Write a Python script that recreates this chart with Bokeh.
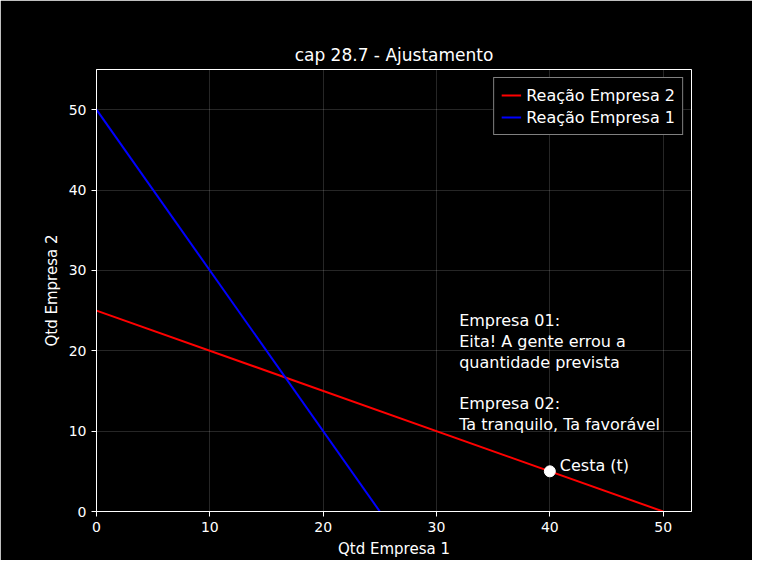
from bokeh.plotting import figure
from bokeh.models import Range1d, FixedTicker
from bokeh.embed import file_html
from bokeh.resources import INLINE
from bokeh.core.properties import value

r2_x = [0, 50]
r2_y = [25, 0]
r1_x = [0, 25]
r1_y = [50, 0]
pt_x = [40]
pt_y = [5]
pt_label = ["Cesta (t)"]
note_lines = ["Empresa 01:", "Eita! A gente errou a", "quantidade prevista",
              "Empresa 02:", "Ta tranquilo, Ta favorável"]
note_y = [23.8, 21.2, 18.6, 13.4, 10.8]
note_x = [32] * 5
ticks = [0, 10, 20, 30, 40, 50]

F = "DejaVu Sans"
p = figure(width=752, height=560, output_backend="svg", toolbar_location=None,
           x_range=Range1d(0, 52.5), y_range=Range1d(0, 55),
           min_border_left=96, min_border_right=61, min_border_top=69, min_border_bottom=47,
           background_fill_color="black", border_fill_color="black",
           title="cap 28.7 - Ajustamento")
p.title.align = "center"
p.title.text_color = "white"
p.title.text_font = F
p.title.text_font_size = "17px"
p.title.text_font_style = "normal"
p.title.offset = 4
p.outline_line_color = "white"
for ax in (p.xaxis, p.yaxis):
    ax.ticker = FixedTicker(ticks=ticks)
    ax.axis_line_color = "white"
    ax.major_tick_line_color = "white"
    ax.minor_tick_line_color = None
    ax.major_label_text_color = "white"
    ax.major_label_text_font = F
    ax.major_label_text_font_size = "14px"
    ax.axis_label_text_color = "white"
    ax.axis_label_text_font = F
    ax.axis_label_text_font_size = "15px"
    ax.axis_label_text_font_style = "normal"
    ax.major_tick_out = 5
    ax.major_tick_in = 0
p.xaxis.axis_label = "Qtd Empresa 1"
p.yaxis.axis_label = "Qtd Empresa 2"
p.grid.grid_line_color = "white"
p.grid.grid_line_alpha = 0.15

p.line(r2_x, r2_y, color="red", line_width=2, legend_label="Reação Empresa 2")
p.line(r1_x, r1_y, color="blue", line_width=2, legend_label="Reação Empresa 1")
p.scatter(pt_x, pt_y, size=11, color="white")
p.text(pt_x, pt_y, text=pt_label, x_offset=10, y_offset=-6, text_color="white", text_font=value(F),
       text_font_size="16px", text_baseline="middle")
p.text(note_x, note_y, text=note_lines, text_color="white", text_font=value(F),
       text_font_size="16px", text_baseline="middle")

lg = p.legend[0]
lg.location = "top_right"
lg.background_fill_color = "black"
lg.background_fill_alpha = 1
lg.border_line_color = "white"
lg.label_text_color = "white"
lg.label_text_font = F
lg.label_text_font_size = "16px"
lg.margin = 8
lg.spacing = 2
lg.padding = 7

open("out.html", "w").write(file_html(p, INLINE))
